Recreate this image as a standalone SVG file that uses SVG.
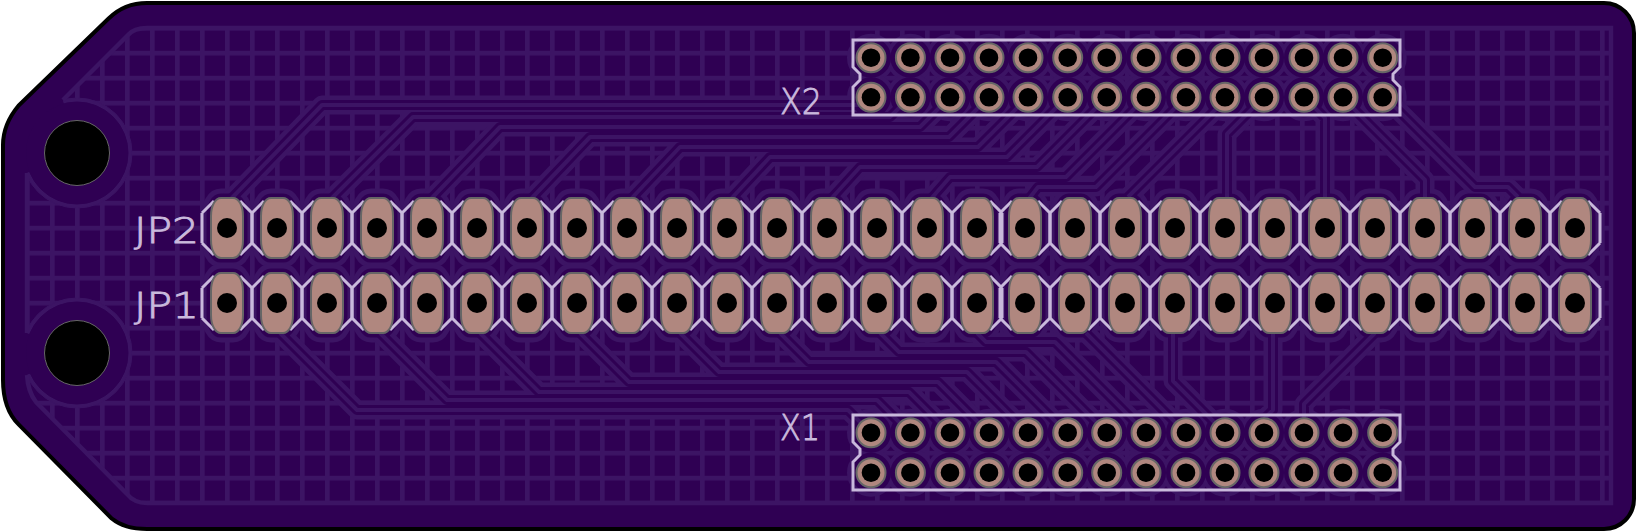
<svg xmlns="http://www.w3.org/2000/svg" width="1638" height="531" viewBox="0 0 1638 531">
<style>
.bd{fill:#2f0053;stroke:#000;stroke-width:8;paint-order:stroke}
.cu{fill:#3c1464;stroke:#3c1464}
.bg{fill:#2f0053;stroke:#2f0053}
.cuw{stroke:#3c1464;stroke-width:19;fill:none;stroke-linejoin:round}
.bgw{stroke:#2f0053;stroke-width:10;fill:none;stroke-linejoin:round}
.tr{stroke:#3c1464;stroke-width:4;fill:none;stroke-linejoin:round}
.edge{stroke:#3c1464;stroke-width:4.4;fill:none}
.silk{stroke:#c9b9dc;stroke-width:3;fill:none}
.pad{fill:#b0877f;stroke:#666;stroke-width:2}
.hole{fill:#000}
.mh{fill:#000;stroke:#666;stroke-width:1}
.lb{fill:#c9b9dc;stroke:#c9b9dc;stroke-width:.9;font-family:"DejaVu Sans",sans-serif;font-weight:200;font-size:36px}
</style>
<defs>
<pattern id="grid" patternUnits="userSpaceOnUse" x="25" y="25.8" width="25" height="25">
<rect width="25" height="4.6" fill="#3c1464"/><rect width="4.6" height="25" fill="#3c1464"/>
</pattern>
<clipPath id="pour"><path d="M147,28H1611V503H147Q134,503 127,494L36,402Q28,392 27,375L77,353L27,333V173L77,153L63,100L128,35Q134,28 147,28Z"/></clipPath>
<path id="cell" d="M-25,-15L-13,-27M-25,15L-13,27M25,-15L13,-27M25,15L13,27M25,-15V15M-25,-15V15"/>
<g id="cells">
<use href="#cell" x="227"/><use href="#cell" x="277"/><use href="#cell" x="327"/><use href="#cell" x="377"/><use href="#cell" x="427"/><use href="#cell" x="477"/><use href="#cell" x="527"/><use href="#cell" x="577"/><use href="#cell" x="627"/><use href="#cell" x="677"/><use href="#cell" x="727"/><use href="#cell" x="777"/><use href="#cell" x="827"/><use href="#cell" x="877"/><use href="#cell" x="927"/><use href="#cell" x="977"/><use href="#cell" x="1025"/><use href="#cell" x="1075"/><use href="#cell" x="1125"/><use href="#cell" x="1175"/><use href="#cell" x="1225"/><use href="#cell" x="1275"/><use href="#cell" x="1325"/><use href="#cell" x="1375"/><use href="#cell" x="1425"/><use href="#cell" x="1475"/><use href="#cell" x="1525"/><use href="#cell" x="1575"/>
</g>
<path id="oval" d="M-6,-30H6C12,-30 16,-22 16,-12V12C16,22 12,30 6,30H-6C-12,30 -16,22 -16,12V-12C-16,-22 -12,-30 -6,-30Z"/>
<g id="ovals">
<use href="#oval" x="227"/><use href="#oval" x="277"/><use href="#oval" x="327"/><use href="#oval" x="377"/><use href="#oval" x="427"/><use href="#oval" x="477"/><use href="#oval" x="527"/><use href="#oval" x="577"/><use href="#oval" x="627"/><use href="#oval" x="677"/><use href="#oval" x="727"/><use href="#oval" x="777"/><use href="#oval" x="827"/><use href="#oval" x="877"/><use href="#oval" x="927"/><use href="#oval" x="977"/><use href="#oval" x="1025"/><use href="#oval" x="1075"/><use href="#oval" x="1125"/><use href="#oval" x="1175"/><use href="#oval" x="1225"/><use href="#oval" x="1275"/><use href="#oval" x="1325"/><use href="#oval" x="1375"/><use href="#oval" x="1425"/><use href="#oval" x="1475"/><use href="#oval" x="1525"/><use href="#oval" x="1575"/>
</g>
<g id="drills">
<circle cx="227" r="10"/><circle cx="277" r="10"/><circle cx="327" r="10"/><circle cx="377" r="10"/><circle cx="427" r="10"/><circle cx="477" r="10"/><circle cx="527" r="10"/><circle cx="577" r="10"/><circle cx="627" r="10"/><circle cx="677" r="10"/><circle cx="727" r="10"/><circle cx="777" r="10"/><circle cx="827" r="10"/><circle cx="877" r="10"/><circle cx="927" r="10"/><circle cx="977" r="10"/><circle cx="1025" r="10"/><circle cx="1075" r="10"/><circle cx="1125" r="10"/><circle cx="1175" r="10"/><circle cx="1225" r="10"/><circle cx="1275" r="10"/><circle cx="1325" r="10"/><circle cx="1375" r="10"/><circle cx="1425" r="10"/><circle cx="1475" r="10"/><circle cx="1525" r="10"/><circle cx="1575" r="10"/>
</g>
<g id="pins">
<circle cx="871" r="14.5"/><circle cx="910.4" r="14.5"/><circle cx="950" r="14.5"/><circle cx="989" r="14.5"/><circle cx="1028" r="14.5"/><circle cx="1067.7" r="14.5"/><circle cx="1106.7" r="14.5"/><circle cx="1146" r="14.5"/><circle cx="1186" r="14.5"/><circle cx="1225" r="14.5"/><circle cx="1264" r="14.5"/><circle cx="1304" r="14.5"/><circle cx="1343" r="14.5"/><circle cx="1382.7" r="14.5"/>
</g>
<g id="pinholes">
<circle cx="871" r="9.3"/><circle cx="910.4" r="9.3"/><circle cx="950" r="9.3"/><circle cx="989" r="9.3"/><circle cx="1028" r="9.3"/><circle cx="1067.7" r="9.3"/><circle cx="1106.7" r="9.3"/><circle cx="1146" r="9.3"/><circle cx="1186" r="9.3"/><circle cx="1225" r="9.3"/><circle cx="1264" r="9.3"/><circle cx="1304" r="9.3"/><circle cx="1343" r="9.3"/><circle cx="1382.7" r="9.3"/>
</g>
<g id="ovalRows"><use href="#ovals" y="228"/><use href="#ovals" y="303"/></g>
<g id="pinRows"><use href="#pins" y="57.7"/><use href="#pins" y="97.3"/><use href="#pins" y="432.7"/><use href="#pins" y="472.7"/></g>
<path id="traces" d="M230,200L322,105H863L871,97M330,200L413,117H890L910,97M430,200L500,127H920L950,97M530,200L590,137H949L989,97M630,200L680,147H978L1028,97M730,200L770,157H1007L1067,97M830,200L860,167H1037L1107,97M930,200L950,177H1066L1146,97M1028,200L1038,187H1096L1186,97M1128,197L1225,100V97M1227,200V134L1264,97M1325,200V118L1304,97M1425,200V180L1343,98M1518,197L1508,187H1475L1385,97M280,333L357,410H848L871,433M380,333L447,400H877L910,433M480,333L539,392H909L950,433M580,333L629,382H938L989,433M680,333L719,372H967L1028,433M780,333L809,362H996L1067,433M880,333L899,352H1026L1107,433M977,333L986,342H1055L1146,433M1086,333L1186,433M1173,330V381L1225,433M1273,330V410L1264,419V433M1375,333L1304,404V433"/>
</defs>

<g id="board">
<path class="bd" d="M147,5H1604A28,28 0 0 1 1632,33V499A28,28 0 0 1 1604,527H147Q125,527 113,517L20,423Q5,408 5,380V145Q5,125 20,107L110,20Q125,5 147,5Z"/>
</g>

<g id="pour-fill">
<g clip-path="url(#pour)">
<rect x="0" y="0" width="1638" height="531" fill="url(#grid)"/>
<circle class="cu" cx="77" cy="153" r="55"/>
<circle class="cu" cx="77" cy="353" r="55"/>
<use href="#ovalRows" class="cu" stroke-width="19"/>
<use href="#pinRows" class="cu" stroke-width="19"/>
</g>
<path class="edge" d="M63,100L128,35Q134,28 147,28H1611V503H147Q134,503 127,494L36,402Q28,392 27,375M27,333V173"/>
</g>

<g id="connectors">
<g clip-path="url(#pour)"><use href="#traces" class="cuw"/></g>
<circle class="bg" cx="77" cy="153" r="51"/>
<circle class="bg" cx="77" cy="353" r="51"/>
<use href="#ovalRows" class="bg" stroke-width="9"/>
<use href="#pinRows" class="bg" stroke-width="11"/>
<use href="#traces" class="bgw"/>
<use href="#traces" class="tr"/>
</g>

<g id="H1"><circle class="mh" cx="77" cy="153" r="32.5"/></g>
<g id="H2"><circle class="mh" cx="77" cy="353" r="32.5"/></g>

<g id="JP2">
<use href="#cells" y="228" class="silk"/>
<use href="#ovals" y="228" class="pad"/>
<use href="#drills" y="228" class="hole"/>
<text class="lb" x="134" y="243" textLength="65" lengthAdjust="spacingAndGlyphs">JP2</text>
</g>
<g id="JP1">
<use href="#cells" y="303" class="silk"/>
<use href="#ovals" y="303" class="pad"/>
<use href="#drills" y="303" class="hole"/>
<text class="lb" x="134" y="318" textLength="65" lengthAdjust="spacingAndGlyphs">JP1</text>
</g>
<g id="X2">
<path class="silk" d="M853,40H1400V67L1393,74V80L1400,87V115H853V87L860,80V74L853,67Z"/>
<use href="#pins" y="57.7" class="pad"/>
<use href="#pins" y="97.3" class="pad"/>
<use href="#pinholes" y="57.7" class="hole"/>
<use href="#pinholes" y="97.3" class="hole"/>
<text class="lb" x="780" y="114" textLength="42" lengthAdjust="spacingAndGlyphs">X2</text>
</g>
<g id="X1">
<path class="silk" d="M853,415H1400V442L1393,449V455L1400,462V490H853V462L860,455V449L853,442Z"/>
<use href="#pins" y="432.7" class="pad"/>
<use href="#pins" y="472.7" class="pad"/>
<use href="#pinholes" y="432.7" class="hole"/>
<use href="#pinholes" y="472.7" class="hole"/>
<text class="lb" x="780" y="440" textLength="40" lengthAdjust="spacingAndGlyphs">X1</text>
</g>
</svg>
